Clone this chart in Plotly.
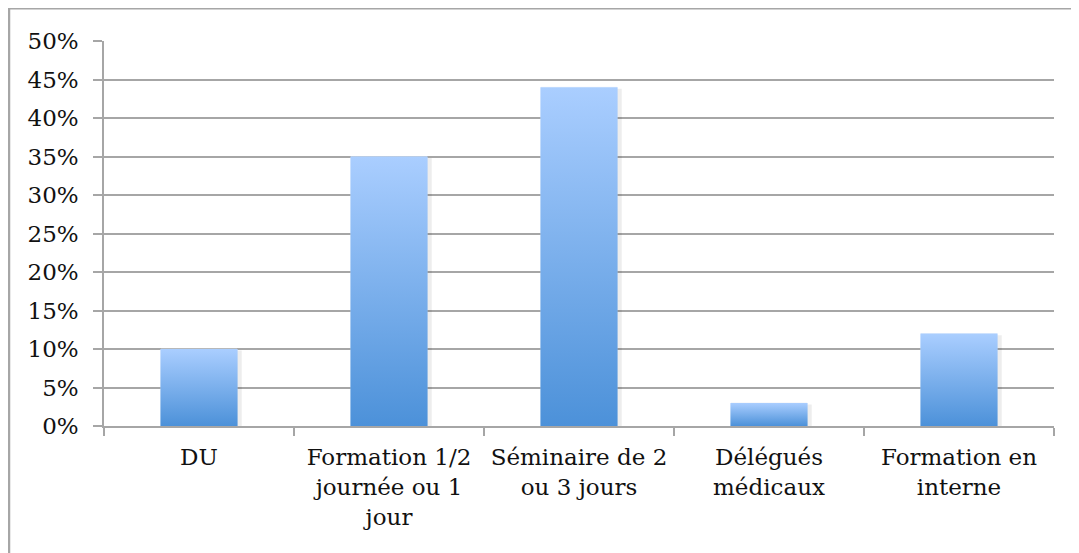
import plotly.graph_objects as go

categories = ["DU", "Formation 1/2<br>journée ou 1<br>jour", "Séminaire de 2<br>ou 3 jours",
              "Délégués<br>médicaux", "Formation en<br>interne"]
values = [0.10, 0.35, 0.44, 0.03, 0.12]
y_ticks = [0, 0.05, 0.10, 0.15, 0.20, 0.25, 0.30, 0.35, 0.40, 0.45, 0.50]

TOP = "rgb(170,206,255)"
BOTTOM = "rgb(76,145,217)"
GRID = "#a6a6a6"
FONT = dict(family="DejaVu Serif", size=23, color="#111111")
HALF = 0.203

fig = go.Figure()
# invisible bars to establish the category axis
fig.add_trace(go.Bar(x=categories, y=values, marker=dict(color="rgba(0,0,0,0)"),
                     hoverinfo="skip", showlegend=False))

for i, v in enumerate(values):
    # soft shadow
    fig.add_trace(go.Scatter(
        x=[i - HALF + 0.012, i + HALF + 0.022, i + HALF + 0.022, i - HALF + 0.012, i - HALF + 0.012],
        y=[0, 0, v - 0.002, v - 0.002, 0],
        xaxis="x2", mode="lines", line=dict(width=0), fill="toself",
        fillcolor="rgba(0,0,0,0.07)", hoverinfo="skip", showlegend=False))
    fig.add_trace(go.Scatter(
        x=[i - HALF, i + HALF, i + HALF, i - HALF, i - HALF],
        y=[0, 0, v, v, 0],
        xaxis="x2", mode="lines", line=dict(width=0), fill="toself",
        fillgradient=dict(type="vertical", colorscale=[[0, BOTTOM], [1, TOP]]),
        hoverinfo="skip", showlegend=False))

fig.update_layout(
    width=1071, height=545,
    margin=dict(l=96, r=25, t=33, b=127),
    paper_bgcolor="white", plot_bgcolor="white",
    font=FONT,
    xaxis=dict(type="category", categoryorder="array", categoryarray=categories,
               tickson="boundaries", ticks="outside", ticklen=8, tickwidth=1.5,
               tickcolor=GRID, showline=True, linecolor=GRID, linewidth=1.5,
               showgrid=False, tickfont=FONT, range=[-0.5, 4.5],
               ticklabelstandoff=10),
    xaxis2=dict(overlaying="x", anchor="y", range=[-0.5, 4.5], visible=False),
    yaxis=dict(range=[0, 0.5], tickvals=y_ticks, tickformat=".0%",
               ticks="outside", ticklen=9, tickwidth=1.5, tickcolor=GRID,
               showgrid=True, gridcolor=GRID, gridwidth=1.5,
               showline=True, linecolor=GRID, linewidth=1.5, zeroline=False,
               tickfont=FONT, ticklabelstandoff=10),
    bargap=0.6,
    shapes=[dict(type="rect", xref="paper", yref="paper", x0=-0.1, x1=1.2,
                 y0=-0.6, y1=1.085, line=dict(color="#a6a6a6", width=2.5),
                 fillcolor="rgba(0,0,0,0)", layer="below")],
)

fig.write_html("out.html")
